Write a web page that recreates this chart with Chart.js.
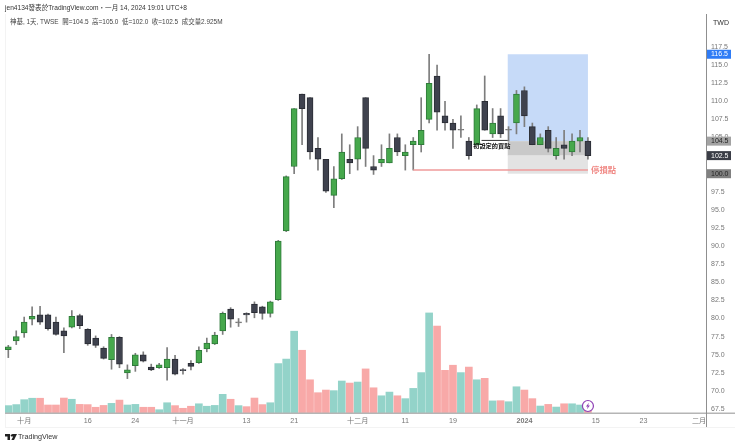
<!DOCTYPE html>
<html>
<head>
<meta charset="utf-8">
<script src="https://cdn.jsdelivr.net/npm/chart.js@4"></script>
<style>
html,body{margin:0;padding:0;background:#fff;}
body{width:740px;height:446px;overflow:hidden;position:relative;font-family:"Liberation Sans","Noto Sans CJK TC",sans-serif;}
canvas{position:absolute;left:0;top:0;}
.txt{position:absolute;white-space:pre;line-height:10px;}
#title{left:5px;top:3px;font-size:6.6px;color:#333;}
#legend{left:10px;top:17px;font-size:6.45px;color:#444;}
#twd{left:706px;top:18px;width:30px;text-align:center;font-size:7px;color:#333;}
#brand{left:18px;top:432px;font-size:7.2px;color:#333;}
#logo{position:absolute;left:5px;top:434px;}
</style>
</head>
<body>
<canvas id="cv" width="740" height="446"></canvas>
<div class="txt" id="title">jen4134發表於TradingView.com・一月 14, 2024 19:01 UTC+8</div>
<div class="txt" id="legend">神基, 1天, TWSE  開=104.5  高=105.0  低=102.0  收=102.5  成交量2.925M</div>
<div class="txt" id="twd">TWD</div>
<svg id="logo" width="12" height="6" viewBox="0 0 12 6"><path d="M0 0H5V6H2.5V2.4H0ZM7.6 0H12L9 6H6.4L8.2 2.4H6.6A1 1 0 0 1 6.6 .4Z" fill="#222"/></svg>
<div class="txt" id="brand">TradingView</div>
<script>
// one entry per trading day, 2 Oct 2023 .. 12 Jan 2024
const opens = [75.7,76.9,78.0,79.9,80.5,80.5,79.5,78.3,78.8,80.4,78.5,77.3,75.9,74.3,77.4,72.5,73.5,75.0,73.3,73.2,73.2,74.4,72.9,73.8,73.9,75.8,76.5,78.3,81.3,79.4,80.7,82.0,81.6,80.7,82.6,92.1,101,111,110.5,103.5,102,97,99.3,102,102,110.5,101,101.5,101.5,105,102.5,104,104,107.5,113.5,108,107,106,104.5,104,110,105.5,108,106,107,111.5,106.5,104,106,102.5,104,103,104.5,104.5]
const highs = [76.3,78.3,80.2,81.6,81.7,80.6,80.2,78.7,81.1,80.6,78.6,77.6,76.1,77.8,77.5,73.6,75.2,75.4,73.7,73.8,76.0,74.9,73.1,74.2,76.1,77.3,78.1,80.9,81.5,80.0,80.8,82.3,81.7,82.4,90.8,99.7,109,111,110.5,105,102,101,105.5,104,106.5,110.5,102.5,104,105.5,105.5,104,105,110.5,116.5,115,110,107.5,108,105,109.5,113.5,109,109,106.5,111.5,112,107,105.5,106.5,105,106,105.5,106,105]
const lows = [74.6,76.4,77.4,79.1,79.2,78.4,77.7,75.3,78.7,78.6,76.3,76.0,74.4,73.0,73.2,71.7,72.7,74.0,72.8,73.1,71.5,72.2,72.3,72.9,73.8,75.4,76.4,77.8,78.8,78.9,79.5,80.1,79.9,80.2,82.5,92.0,100,104,102,100.5,97.4,95.3,99.2,100,100.5,101,99.9,101,101.5,102.5,100.5,100.5,103,107,106,106,103.5,105,102,104,106,105,105,104.5,105.5,106.5,104,104,103,102,102,102.5,103,102]
const closes = [76.1,77.5,79.5,80.3,79.5,78.6,77.8,77.6,80.3,79.0,76.5,76.3,74.5,77.4,73.7,72.9,75.0,74.1,72.9,73.6,74.4,72.3,72.8,73.4,75.6,76.6,77.7,80.7,79.9,79.4,80.5,80.8,80.7,82.3,90.7,99.6,109,109,103,102,97.6,99.3,103,101.5,105,103.5,100.5,102,103.5,103,103,104.5,106,112.5,108.5,107,106,106,102.5,109,106,107,105.5,106,111,108,104,105,103.5,103.5,103.5,104.5,105,102.5]
// volume in millions of shares
const volumes = [3.6,4.1,6.5,7.2,7.2,3.9,3.9,7.3,6.7,4.2,4.1,2.8,3.7,4.7,6.3,3.9,4.2,2.8,2.8,1.6,5.0,3.6,2.3,3.3,4.5,3.3,3.7,9.1,6.7,3.6,3.1,7.3,4.1,5.0,24.1,26.3,39.9,30.6,16.2,9.9,11.2,10.9,15.6,14.6,15.1,21.5,12.3,8.4,10.2,8.4,7.0,12.0,19.7,48.8,42.4,20.8,23.3,19.7,22.4,16.2,16.9,5.9,6.0,5.5,12.8,11.2,7.0,3.4,4.2,2.9,4.5,4.5,3.9,2.925]

const xTickPos = [2,10,16,22,30,36,44,50,56,65,74,80,87]
const xTickText = ['十月','16','24','十一月','13','21','十二月','11','19','2024','15','23','二月']
const yTickVals = [67.5,70,72.5,75,77.5,80,82.5,85,87.5,90,92.5,95,97.5,100,102.5,105,107.5,110,112.5,115,117.5]

// drawing tool values
const planX = [62.9,73]
const targetZone = [104.5,116.5]
const entryZone = [102.5,104.5]
const stopZone = [100,102.5]
const stopLine = [51,73,100.5]
const entryLine = [59.6,62.9,104.6]
const priceTags = [116.5,104.5,102.5,100.0]
const tagColors = ['#2f7cf6','#a3a3a3','#3a3d46','#808080']
const tagText = ['#fff','#222','#fff','#222']

const isUp = opens.map((o,i)=>closes[i]>=o)
const isDoji = opens.map((o,i)=>Math.abs(closes[i]-o)<=0.1)

const overlay = {
  id:'overlay',
  beforeDatasetsDraw(c){
    const g=c.ctx, xs=c.scales.x, ys=c.scales.y
    const box=(yr,col)=>{
      g.fillStyle=col
      g.fillRect(xs.getPixelForValue(planX[0]),ys.getPixelForValue(yr[1]),xs.getPixelForValue(planX[1])-xs.getPixelForValue(planX[0]),ys.getPixelForValue(yr[0])-ys.getPixelForValue(yr[1]))
    }
    box(targetZone,'#c6daf8')
    box(entryZone,'#c9c9c9')
    box(stopZone,'#e3e3e3')
    // faint frame
    g.fillStyle='#f3f3f3'
    g.fillRect(5,14,1,413)
    g.fillRect(5,427,730,1)
  },
  afterDatasetsDraw(c){
    const g=c.ctx, xs=c.scales.x, ys=c.scales.y, a=c.chartArea
    g.save()
    // stop and entry lines
    g.strokeStyle='#ef9a9a'; g.lineWidth=1.5
    g.beginPath()
    g.moveTo(xs.getPixelForValue(stopLine[0]),ys.getPixelForValue(stopLine[2]))
    g.lineTo(xs.getPixelForValue(stopLine[1]),ys.getPixelForValue(stopLine[2]))
    g.stroke()
    g.strokeStyle='#333'; g.lineWidth=1
    g.beginPath()
    g.moveTo(xs.getPixelForValue(entryLine[0]),ys.getPixelForValue(entryLine[2]))
    g.lineTo(xs.getPixelForValue(entryLine[1]),ys.getPixelForValue(entryLine[2]))
    g.stroke()
    g.textBaseline='middle'
    g.textAlign='left'
    g.fillStyle='#111'
    g.font='bold 6.2px "Noto Sans CJK TC"'
    g.fillText('初設定的買點',xs.getPixelForValue(58.55),ys.getPixelForValue(103.85))
    g.fillStyle='#f08a86'
    g.font='bold 8.3px "Noto Sans CJK TC"'
    g.fillText('停損點',xs.getPixelForValue(73.4),ys.getPixelForValue(100.5))
    // axis lines
    g.fillStyle='#b5b5b5'
    g.fillRect(5,a.bottom-0.5,730,1.5)
    g.fillStyle='#8f8f8f'
    g.fillRect(a.right,14,1,413)
    // price tags
    g.font='7px "Liberation Sans"'
    priceTags.forEach((p,i)=>{
      const y=ys.getPixelForValue(p)
      g.fillStyle=tagColors[i]
      g.fillRect(a.right+1,y-4.5,24,9)
      g.fillStyle=tagText[i]
      g.fillText(p.toFixed(1),a.right+5,y+0.3)
    })
    // split marker on the last bar
    const mx=xs.getPixelForValue(73), my=406
    g.beginPath(); g.arc(mx,my,5.5,0,Math.PI*2)
    g.fillStyle='#fff'; g.fill()
    g.strokeStyle='#8e3fb5'; g.lineWidth=1.2; g.stroke()
    g.fillStyle='#8e3fb5'
    g.beginPath()
    g.moveTo(mx+1,my-3.2); g.lineTo(mx-2,my+0.6); g.lineTo(mx-0.2,my+0.6)
    g.lineTo(mx-1,my+3.2); g.lineTo(mx+2,my-0.6); g.lineTo(mx+0.2,my-0.6)
    g.closePath(); g.fill()
    g.restore()
  }
}

new Chart(document.getElementById('cv'),{
  type:'bar',
  plugins:[overlay],
  data:{
    datasets:[
      {
        label:'body', order:0, yAxisID:'y', grouped:false, barThickness:6, minBarLength:1, borderWidth:1, borderSkipped:false,
        data:opens.map((o,i)=>({x:i,y:[o,closes[i]]})),
        backgroundColor:isUp.map((u,i)=>isDoji[i]?'#777':(u?'#46a84c':'#3f424e')),
        borderColor:isUp.map((u,i)=>isDoji[i]?'#777':(u?'#2f7a3a':'#2b2d35'))
      },
      {
        label:'wick', order:1, yAxisID:'y', grouped:false, barThickness:1,
        data:lows.map((l,i)=>({x:i,y:[l,highs[i]]})),
        backgroundColor:'#7d7d7d'
      },
      {
        label:'volume', order:2, yAxisID:'yv', grouped:false, barThickness:7,
        data:volumes.map((v,i)=>({x:i,y:v})),
        backgroundColor:isUp.map((u,i)=>(u&&i!=22)?'#93d3c9':'#f8a9a8')
      }
    ]
  },
  options:{
    responsive:false,
    animation:false,
    devicePixelRatio:1,
    layout:{padding:{left:5,top:14,right:0,bottom:0}},
    plugins:{legend:{display:false},tooltip:{enabled:false}},
    scales:{
      x:{
        type:'linear',
        offset:false,
        min:-0.416,
        max:87.87,
        grid:{display:false,drawTicks:false},
        border:{display:false},
        afterBuildTicks(s){ s.ticks=xTickPos.map(v=>({value:v})) },
        afterFit(s){ s.height=33 },
        ticks:{
          autoSkip:false, maxRotation:0, padding:4, color:'#777',
          font:ctx=>({family:'"Liberation Sans","Noto Sans CJK TC"',size:7.2,weight:ctx.tick&&ctx.tick.value===65?'bold':'normal'}),
          callback:v=>xTickText[xTickPos.indexOf(v)]
        }
      },
      y:{
        position:'right',
        min:66.95,
        max:122.06,
        grid:{display:false,drawTicks:false},
        border:{display:false},
        afterBuildTicks(s){ s.ticks=yTickVals.map(v=>({value:v})) },
        afterFit(s){ s.width=34 },
        ticks:{
          autoSkip:false, padding:5, color:'#777', align:'center', crossAlign:'near',
          font:{family:'"Liberation Sans"',size:7},
          callback:v=>v.toFixed(1)
        }
      },
      yv:{display:false,min:0,max:194.6}
    }
  }
})
</script>
</body>
</html>
